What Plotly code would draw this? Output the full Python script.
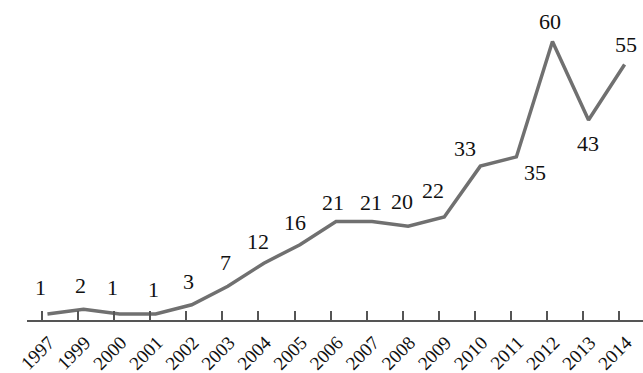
import plotly.graph_objects as go

years = ["1997", "1999", "2000", "2001", "2002", "2003", "2004", "2005", "2006",
         "2007", "2008", "2009", "2010", "2011", "2012", "2013", "2014"]
counts = [1, 2, 1, 1, 3, 7, 12, 16, 21, 21, 20, 22, 33, 35, 60, 43, 55]

# label placement (style only): pixel shifts and side
label_dx = [-7, -3, -7, -2, -3, -2, -6, -5, -3, -1, -6, -11, -15, 19, -2, -1, 1]
label_dy = [12, 9, 12, 10, 9, 9, 7, 8, 5, 5, 10, 12, 3, -1, 5, -9, 6]
label_below = [False] * 13 + [True, False, True, False]

FONT = "Liberation Serif, Times New Roman, Times, serif"
LINE = "#707070"
AXIS = "#555555"

fig = go.Figure()
fig.add_trace(go.Scatter(
    x=years, y=counts, mode="lines",
    line=dict(color=LINE, width=3.5), hoverinfo="skip", showlegend=False,
))
fig.add_trace(go.Scatter(
    x=years, y=counts, mode="none", xaxis="x2",
    hoverinfo="skip", showlegend=False,
))

for i, (v, dx, dy, below) in enumerate(zip(counts, label_dx, label_dy, label_below)):
    fig.add_annotation(
        x=i, y=v, xref="x", yref="y", text=str(v), showarrow=False,
        xanchor="center", yanchor="top" if below else "bottom",
        xshift=dx, yshift=dy,
        font=dict(family=FONT, size=22, color="#111111"),
    )

n = len(years)
fig.update_layout(
    width=643, height=373,
    margin=dict(l=27, r=0, t=10, b=53, autoexpand=False),
    paper_bgcolor="white", plot_bgcolor="white",
    font=dict(family=FONT),
    xaxis=dict(
        type="category", categoryorder="array", categoryarray=years,
        range=[-0.567, n - 1 + 0.51], automargin=False,
        showline=False, showticklabels=False, ticks="",
        showgrid=False, zeroline=False,
    ),
    xaxis2=dict(
        type="category", categoryorder="array", categoryarray=years,
        overlaying="x", anchor="y", side="bottom",
        range=[-0.415, n - 1 + 0.66], automargin=False,
        showline=True, linecolor=AXIS, linewidth=2,
        ticks="inside", ticklen=9, tickwidth=1.5, tickcolor=AXIS,
        tickangle=-45, showgrid=False, zeroline=False,
        ticklabelstandoff=2, ticklabelshift=7,
        tickfont=dict(family=FONT, size=19, color="#111111"),
    ),
    yaxis=dict(
        range=[-0.3, 66.8], visible=False, showgrid=False, zeroline=False,
        automargin=False,
    ),
)

fig.write_html("out.html")
